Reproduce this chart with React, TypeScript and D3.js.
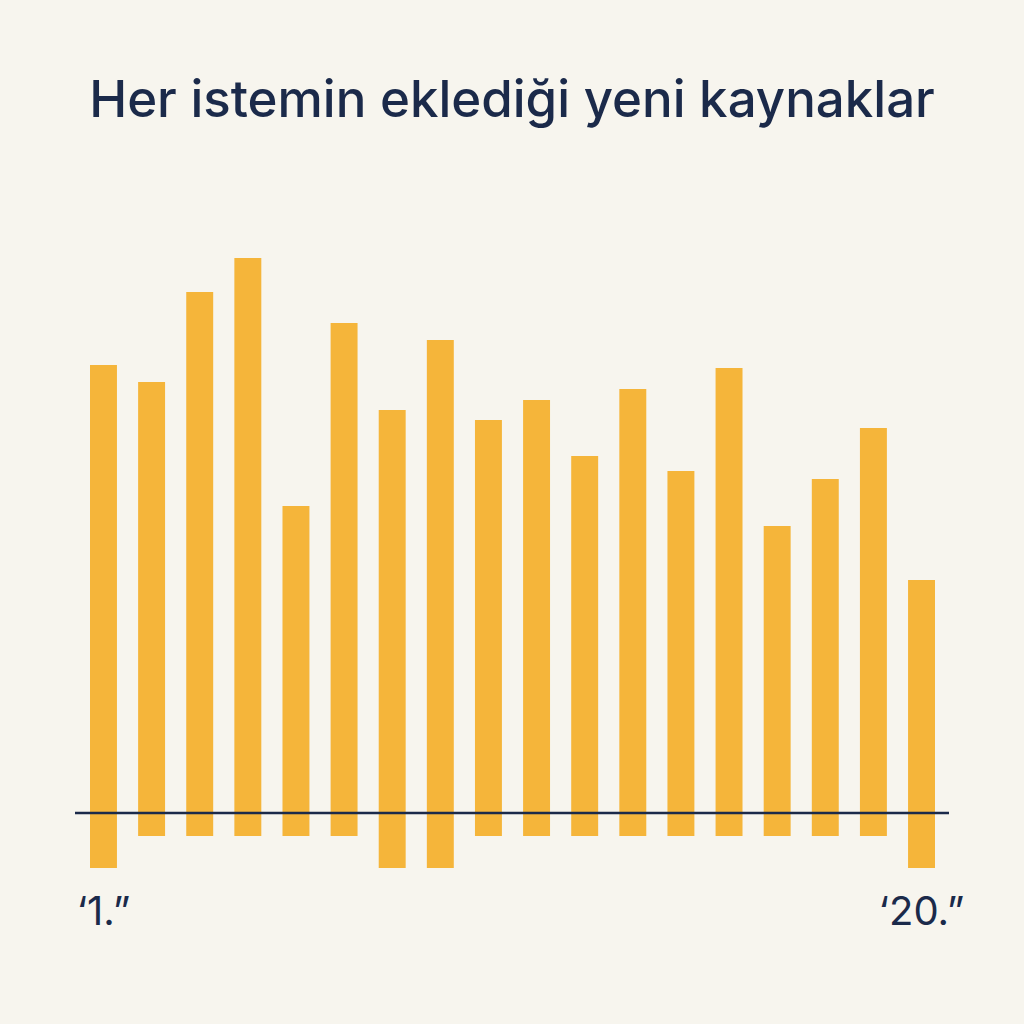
import { useEffect, useRef } from "react";
import * as d3 from "d3";

// New resources added by each prompt (floating bars: low..high)
const prompts = ["1", "2", "3", "4", "5", "6", "7", "8", "9", "10", "11", "12", "13", "14", "15", "16", "17", "18"];
const highs = [89.6, 86.2, 104.2, 111, 61.4, 98, 80.6, 94.6, 78.6, 82.6, 71.4, 84.8, 68.4, 89, 57.4, 66.8, 77, 46.6];
const lows = [-11, -4.6, -4.6, -4.6, -4.6, -4.6, -11, -11, -4.6, -4.6, -4.6, -4.6, -4.6, -4.6, -4.6, -4.6, -4.6, -11];
const edgeLabels = ["\u20181.\u201d", "\u201820.\u201d"];
const title = "Her istemin ekledi\u011fi yeni kaynaklar";

export default function App() {
  const svgRef = useRef<SVGSVGElement>(null);

  useEffect(() => {
    if (!svgRef.current) return;
    const svg = d3.select(svgRef.current);
    svg.selectAll("*").remove();

    const W = 1024, H = 1024;
    const ink = "#1b2a4a";
    const barColor = "#f5b53a";

    svg.append("rect").attr("width", W).attr("height", H).attr("fill", "#f7f5ee");

    // Title
    svg.append("text")
      .attr("x", W / 2)
      .attr("y", 117)
      .attr("text-anchor", "middle")
      .attr("fill", ink)
      .attr("font-family", "Inter, 'Noto Sans', sans-serif")
      .attr("font-size", 51)
      .attr("font-weight", 500)
      .text(title);

    const x = d3.scaleBand<string>()
      .domain(prompts)
      .range([90, 935])
      .paddingInner(0.44)
      .paddingOuter(0);

    const y = d3.scaleLinear()
      .domain([-11, 111])
      .range([868, 258]);

    // Bars
    svg.append("g")
      .selectAll("rect")
      .data(prompts)
      .enter()
      .append("rect")
      .attr("x", d => x(d) as number)
      .attr("width", x.bandwidth())
      .attr("y", (_, i) => y(highs[i]))
      .attr("height", (_, i) => y(lows[i]) - y(highs[i]))
      .attr("fill", barColor);

    // Zero line
    svg.append("line")
      .attr("x1", 75)
      .attr("x2", 949)
      .attr("y1", y(0))
      .attr("y2", y(0))
      .attr("stroke", ink)
      .attr("stroke-width", 2.5);

    // First / last labels
    const ends = [prompts[0], prompts[prompts.length - 1]];
    svg.append("g")
      .selectAll("text")
      .data(ends)
      .enter()
      .append("text")
      .attr("x", d => (x(d) as number) + x.bandwidth() / 2)
      .attr("y", 925)
      .attr("text-anchor", "middle")
      .attr("fill", ink)
      .attr("font-family", "Inter, 'Noto Sans', sans-serif")
      .attr("font-size", 40)
      .text((_, i) => edgeLabels[i]);
  }, []);

  return (
    <svg
      ref={svgRef}
      width={1024}
      height={1024}
      style={{ position: "absolute", top: 0, left: 0, display: "block" }}
    />
  );
}
